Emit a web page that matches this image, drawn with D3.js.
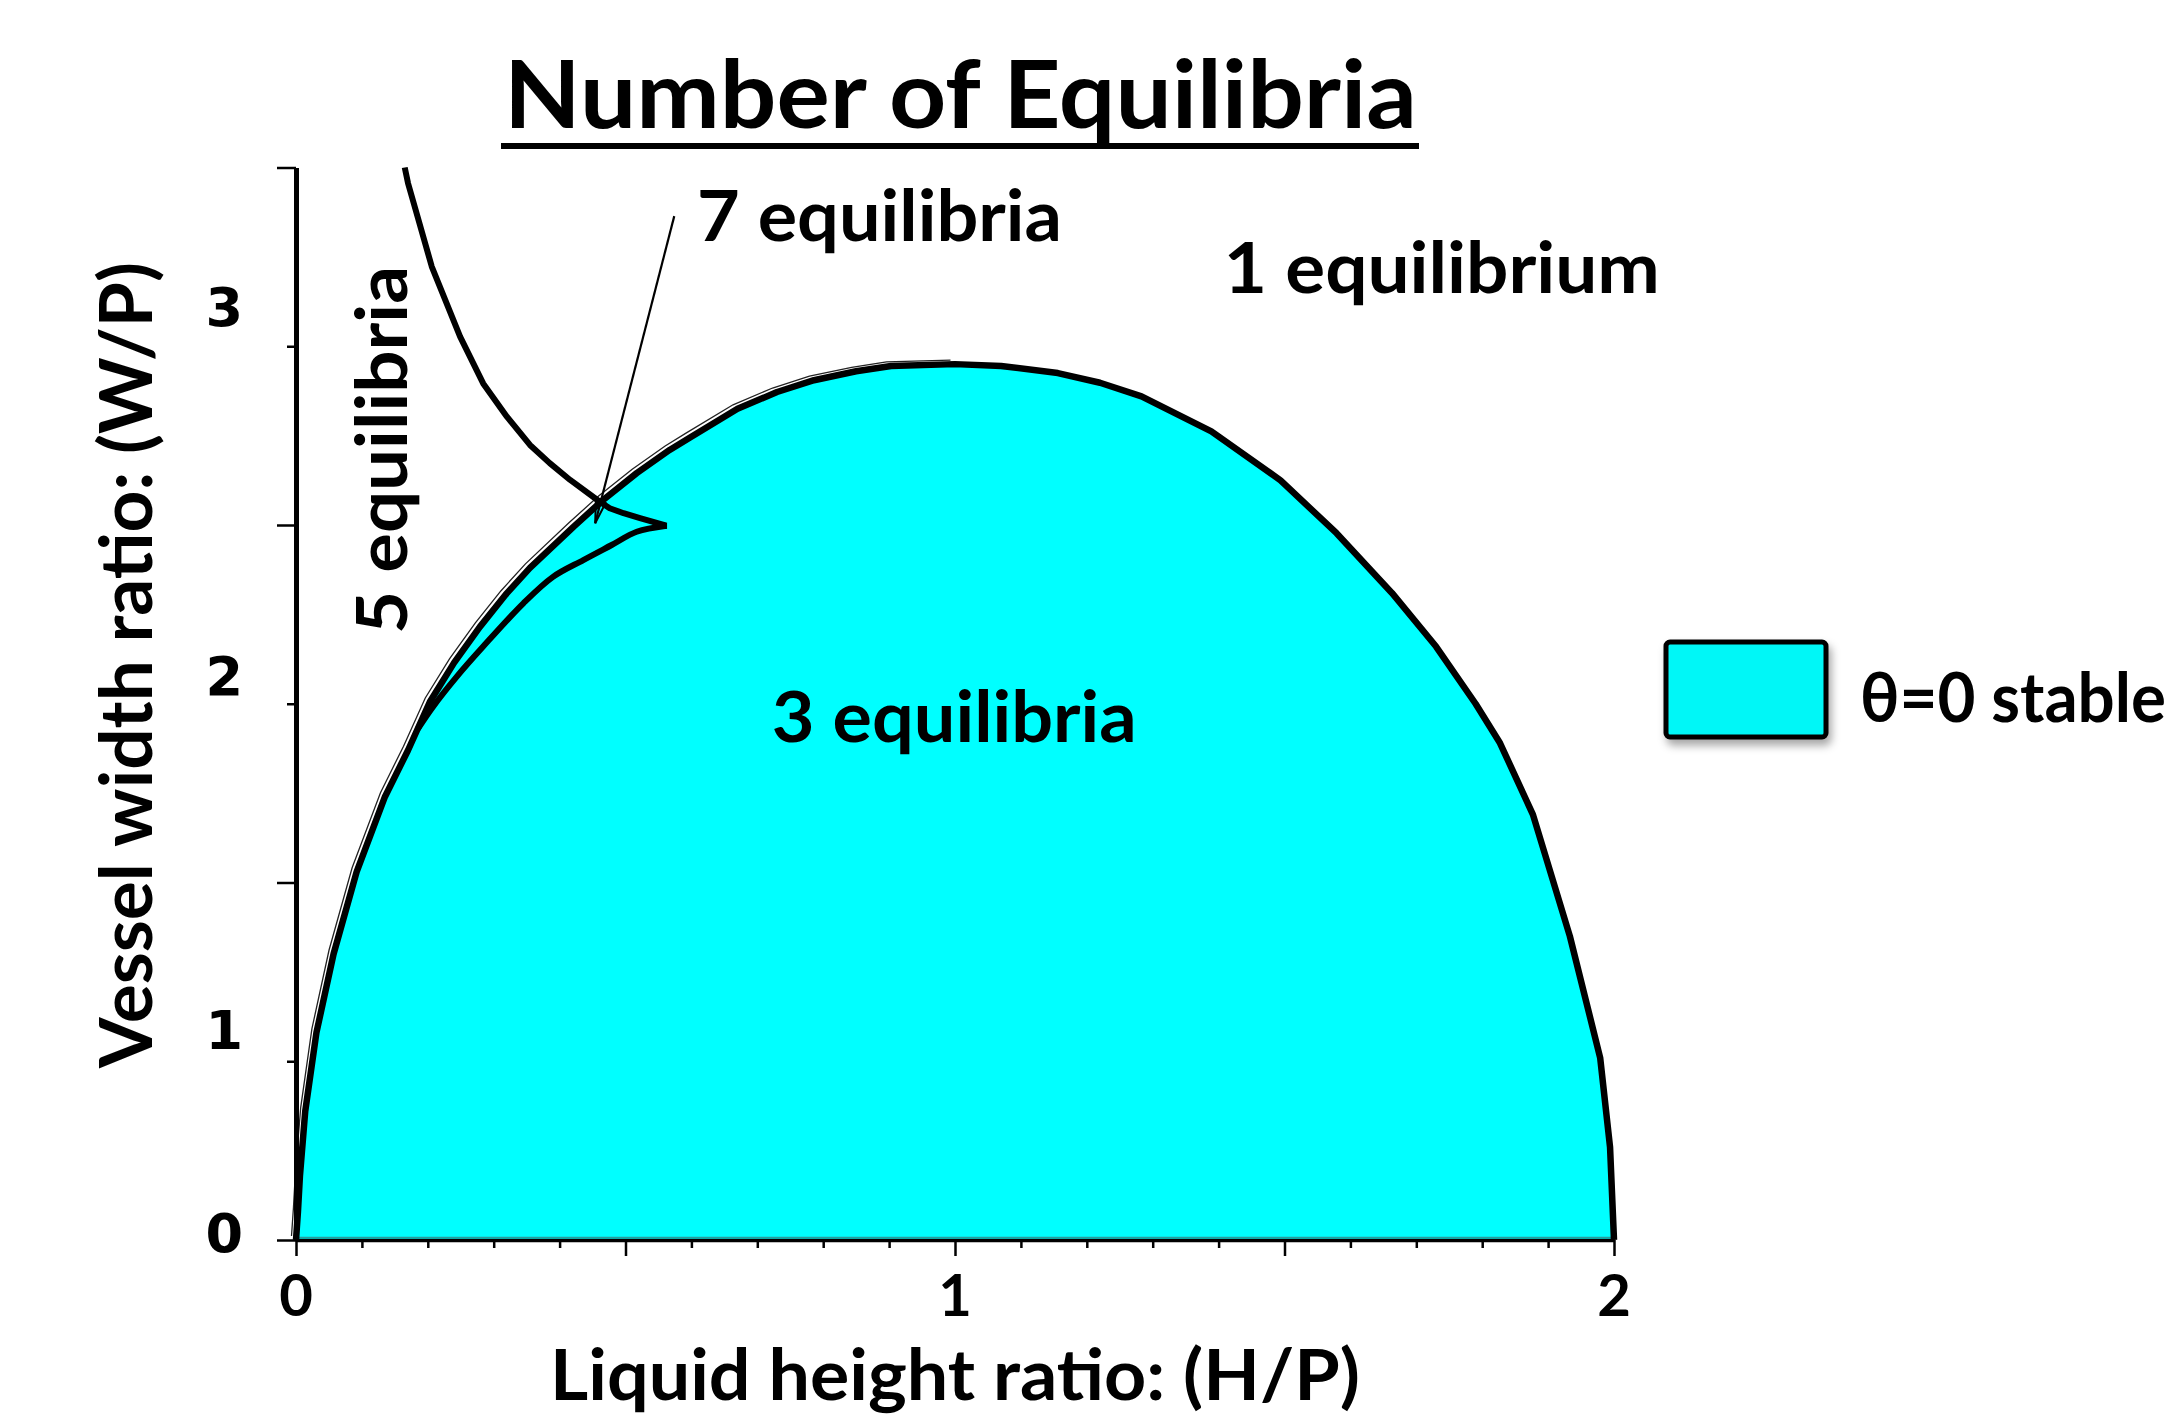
<!DOCTYPE html>
<html>
<head>
<meta charset="utf-8">
<script src="https://cdn.jsdelivr.net/npm/d3@7"></script>
<style>
  html, body { margin: 0; padding: 0; background: #ffffff; }
  svg { display: block; }
</style>
</head>
<body>
<svg id="chart" width="2183" height="1420"></svg>
<script>
// Equilibrium-count map of a floating vessel: H/P on x, W/P on y.

// Outer boundary of the region where θ = 0 is stable  [H/P, W/P]
const outerBoundary = [
  [0.000, 0.000], [0.003, 0.080], [0.006, 0.180], [0.014, 0.360], [0.031, 0.580],
  [0.057, 0.800], [0.092, 1.030], [0.135, 1.240], [0.170, 1.370], [0.203, 1.505],
  [0.240, 1.615], [0.279, 1.715], [0.318, 1.805], [0.355, 1.880], [0.421, 1.995],
  [0.466, 2.070], [0.517, 2.145], [0.567, 2.210], [0.598, 2.245], [0.670, 2.325],
  [0.730, 2.372], [0.786, 2.405], [0.850, 2.430], [0.903, 2.445], [1.000, 2.450],
  [1.070, 2.445], [1.156, 2.425], [1.220, 2.398], [1.283, 2.360], [1.389, 2.262],
  [1.494, 2.125], [1.579, 1.977], [1.663, 1.810], [1.730, 1.660], [1.790, 1.500],
  [1.827, 1.390], [1.877, 1.190], [1.933, 0.850], [1.979, 0.510], [1.994, 0.260],
  [2.000, 0.000]
];

// Bifurcation branch coming down from the top of the plot to the cusp
const upperBranch = [
  [0.165, 3.000], [0.170, 2.956], [0.183, 2.872], [0.206, 2.723], [0.249, 2.527],
  [0.284, 2.396], [0.320, 2.303], [0.355, 2.224], [0.385, 2.173], [0.416, 2.126],
  [0.461, 2.065], [0.476, 2.047], [0.497, 2.033], [0.522, 2.019], [0.562, 1.998]
];

// Branch returning from the cusp until it rejoins the outer boundary
const innerBranch = [
  [0.562, 1.998], [0.517, 1.981], [0.479, 1.944], [0.436, 1.902], [0.390, 1.855],
  [0.345, 1.781], [0.284, 1.660], [0.244, 1.576], [0.208, 1.492], [0.185, 1.430]
];

// Axis ticks and labels
const xTickValues = d3.range(0, 21).map(i => i / 10);
const xTickLabels = ["0", "1", "2"];
const xTickLabelValues = [0, 1, 2];
const yTickValues = d3.range(0, 7).map(i => i / 2);
const yTickLabels = ["0", "1", "2", "3"];
const yTickLabelValues = [0.02, 0.59, 1.58, 2.61];

const regionLabels = ["7 equilibria", "1 equilibrium", "3 equilibria", "5 equilibria"];
const legendLabel = "θ=0 stable";

const CYAN = "#00ffff";
const FONT = "Lato, 'Open Sans', sans-serif";

const svg = d3.select("#chart");

const x = d3.scaleLinear().domain([0, 2]).range([296, 1614]);
const y = d3.scaleLinear().domain([0, 3]).range([1240, 167.5]);

const defs = svg.append("defs");
const shadow = defs.append("filter").attr("id", "legendShadow")
  .attr("x", "-20%").attr("y", "-20%").attr("width", "150%").attr("height", "160%");
shadow.append("feDropShadow")
  .attr("dx", 3).attr("dy", 6).attr("stdDeviation", 4)
  .attr("flood-color", "#000").attr("flood-opacity", 0.35);

const straight = d3.line().x(d => x(d[0])).y(d => y(d[1]));
const smooth = d3.line().x(d => x(d[0])).y(d => y(d[1])).curve(d3.curveCatmullRom.alpha(0.5));

// Filled stable region
svg.append("path")
  .attr("d", straight(outerBoundary) + "Z")
  .attr("fill", CYAN)
  .attr("stroke", "none");

// faint teal edge along the base of the filled region
svg.append("line")
  .attr("x1", x(0)).attr("x2", x(2))
  .attr("y1", y(0) - 2.5).attr("y2", y(0) - 2.5)
  .attr("stroke", "#2a9d9d").attr("stroke-width", 1.5);

// thin duplicate trace running just outside the left half of the boundary
svg.append("path")
  .attr("d", straight(outerBoundary.filter(d => d[0] <= 1.0)))
  .attr("transform", "translate(-4.5,-4)")
  .attr("fill", "none")
  .attr("stroke", "#222")
  .attr("stroke-width", 1.3);

// Boundary curves
svg.append("path")
  .attr("d", straight(outerBoundary))
  .attr("fill", "none")
  .attr("stroke", "#000")
  .attr("stroke-width", 6.5)
  .attr("stroke-linejoin", "round");

svg.append("path")
  .attr("d", straight(upperBranch))
  .attr("fill", "none")
  .attr("stroke", "#000")
  .attr("stroke-width", 6)
  .attr("stroke-linejoin", "round");

svg.append("path")
  .attr("d", smooth(innerBranch))
  .attr("fill", "none")
  .attr("stroke", "#000")
  .attr("stroke-width", 6)
  .attr("stroke-linejoin", "round");

// tiny marker left at the cusp
const cusp = upperBranch[upperBranch.length - 1];
svg.append("rect")
  .attr("x", x(cusp[0]) - 13).attr("y", y(cusp[1]) - 2)
  .attr("width", 13).attr("height", 4.5)
  .attr("fill", "none").attr("stroke", "#000").attr("stroke-width", 1.4);

// Axes
const xAxis = d3.axisBottom(x).tickValues(xTickValues).tickFormat("").tickSizeOuter(0);
const gx = svg.append("g").attr("transform", `translate(0,${y(0)})`).call(xAxis);
gx.select(".domain").attr("stroke", "#000").attr("stroke-width", 3.5);
gx.selectAll(".tick line")
  .attr("stroke", "#000")
  .attr("stroke-width", 2.5)
  .attr("y2", d => (Math.round(d * 10) % 5 === 0 ? 16 : 8));

const yAxis = d3.axisLeft(y).tickValues(yTickValues).tickFormat("").tickSizeOuter(0);
const gy = svg.append("g").attr("transform", `translate(${x(0)},0)`).call(yAxis);
gy.select(".domain").attr("stroke", "#000").attr("stroke-width", 5);
gy.selectAll(".tick line")
  .attr("stroke", "#000")
  .attr("stroke-width", 2.5)
  .attr("x2", d => (Number.isInteger(d) ? -19 : -9));

// Tick labels
svg.append("g").selectAll("text")
  .data(xTickLabels)
  .join("text")
  .attr("x", (d, i) => x(xTickLabelValues[i]))
  .attr("y", 1316)
  .attr("text-anchor", "middle")
  .attr("font-family", FONT)
  .attr("font-weight", 700)
  .attr("font-size", 58)
  .text(d => d);

svg.append("g").selectAll("text")
  .data(yTickLabels)
  .join("text")
  .attr("x", 243)
  .attr("y", (d, i) => y(yTickLabelValues[i]))
  .attr("dy", "0.36em")
  .attr("text-anchor", "end")
  .attr("font-family", "'DejaVu Sans', Verdana, sans-serif")
  .attr("font-weight", 700)
  .attr("font-size", 54)
  .text(d => d);

// Axis titles
svg.append("text")
  .attr("x", x(1) - 405).attr("y", 1400)
  .attr("font-family", FONT).attr("font-weight", 700).attr("font-size", 70)
  .attr("textLength", 810).attr("lengthAdjust", "spacingAndGlyphs")
  .text("Liquid height ratio: (H/P)");

svg.append("text")
  .attr("transform", "translate(152,1068) rotate(-90)")
  .attr("font-family", FONT).attr("font-weight", 700).attr("font-size", 72)
  .attr("textLength", 806).attr("lengthAdjust", "spacingAndGlyphs")
  .text("Vessel width ratio: (W/P)");

// Title with underline
svg.append("text")
  .attr("x", 504).attr("y", 128)
  .attr("font-family", FONT).attr("font-weight", 700).attr("font-size", 94)
  .attr("textLength", 913).attr("lengthAdjust", "spacingAndGlyphs")
  .text("Number of Equilibria");
svg.append("line")
  .attr("x1", 501).attr("x2", 1419).attr("y1", 146).attr("y2", 146)
  .attr("stroke", "#000").attr("stroke-width", 6);

// Region labels
const labelStyle = sel => sel
  .attr("font-family", FONT).attr("font-weight", 700).attr("font-size", 70)
  .attr("lengthAdjust", "spacingAndGlyphs").attr("fill", "#000");

svg.append("text").call(labelStyle)
  .attr("x", x(0.6085)).attr("y", y(2.794)).attr("textLength", 365)
  .text(regionLabels[0]);
svg.append("text").call(labelStyle)
  .attr("x", x(1.408)).attr("y", y(2.649)).attr("textLength", 436)
  .text(regionLabels[1]);
svg.append("text").call(labelStyle)
  .attr("x", x(0.722)).attr("y", y(1.393)).attr("textLength", 365)
  .text(regionLabels[2]);
svg.append("text").call(labelStyle)
  .attr("transform", `translate(${x(0.168)},${y(1.695)}) rotate(-90)`)
  .attr("textLength", 368)
  .text(regionLabels[3]);

// Pointer from the "7 equilibria" label into the small swallowtail region
const pFrom = [x(0.574), y(2.864)];
const pTip = [x(0.454), y(2.005)];
svg.append("line")
  .attr("x1", pFrom[0]).attr("y1", pFrom[1])
  .attr("x2", pTip[0]).attr("y2", pTip[1])
  .attr("stroke", "#000").attr("stroke-width", 2.2);
{
  const dx = pTip[0] - pFrom[0], dy = pTip[1] - pFrom[1];
  const len = Math.hypot(dx, dy), ux = dx / len, uy = dy / len;
  const bx = pTip[0] - ux * 22, by = pTip[1] - uy * 22;
  const nx = -uy * 5, ny = ux * 5;
  svg.append("path")
    .attr("d", `M${bx + nx},${by + ny}L${pTip[0]},${pTip[1]}L${bx - nx},${by - ny}Z`)
    .attr("fill", "none").attr("stroke", "#000").attr("stroke-width", 2);
}

// Legend
svg.append("rect")
  .attr("x", 1666).attr("y", 642).attr("width", 160).attr("height", 95)
  .attr("rx", 4).attr("ry", 4)
  .attr("fill", "#05f7f7").attr("stroke", "#000").attr("stroke-width", 5)
  .attr("filter", "url(#legendShadow)");
svg.append("text")
  .attr("x", 1860).attr("y", 722)
  .attr("font-family", FONT).attr("font-weight", 700).attr("font-size", 68)
  .attr("textLength", 306).attr("lengthAdjust", "spacingAndGlyphs")
  .text(legendLabel);
</script>
</body>
</html>
